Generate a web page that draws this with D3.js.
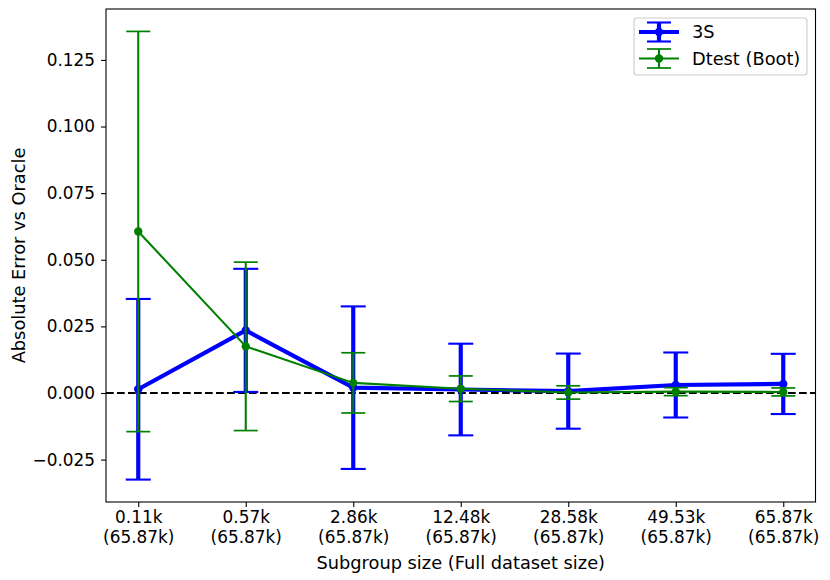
<!DOCTYPE html>
<html>
<head>
<meta charset="utf-8">
<script src="https://cdn.jsdelivr.net/npm/d3@7"></script>
<style>
    body { margin: 0; background: #fff; }
    text { font-family: "DejaVu Sans", sans-serif; font-size: 17.8px; fill: black; }
    .tick text { font-size: 16.9px; }
</style>
</head>
<body>
<svg id="chart"></svg>
<script>
const subgroup_sizes = ['0.11k', '0.57k', '2.86k', '12.48k', '28.58k', '49.53k', '65.87k'];
const full_sizes = ['65.87k', '65.87k', '65.87k', '65.87k', '65.87k', '65.87k', '65.87k'];

const s3_mean = [0.0014, 0.0235, 0.0020, 0.0013, 0.0007, 0.0030, 0.0034];
const s3_err = [0.0339, 0.0231, 0.0305, 0.0172, 0.0141, 0.0122, 0.0113];

const dtest_mean = [0.0606, 0.0175, 0.0038, 0.0016, 0.0002, 0.0005, 0.0004];
const dtest_err = [0.0751, 0.0316, 0.0113, 0.0048, 0.0025, 0.0015, 0.0015];

const y_ticks = [-0.025, 0, 0.025, 0.05, 0.075, 0.1, 0.125];

class ErrorbarChart {
    constructor (config, series) {
        this.config = {
            parent: config.parent,
            width: config.width || 830,
            height: config.height || 580,
            margin: config.margin || {top:9, right:14.5, bottom:78, left:106},
            xlabel: config.xlabel || '',
            ylabel: config.ylabel || ''
        };
        this.series = series;
        this.init();
    }

    init() {
        let self = this;

        self.svg = d3.select(self.config.parent)
            .attr('width', self.config.width)
            .attr('height', self.config.height);

        self.chart = self.svg.append('g')
            .attr('transform', `translate(${self.config.margin.left}, ${self.config.margin.top})`);

        self.inner_width = self.config.width - self.config.margin.left - self.config.margin.right;
        self.inner_height = self.config.height - self.config.margin.top - self.config.margin.bottom;

        // categorical positions 0..n-1 with matplotlib's 5% padding
        const n = subgroup_sizes.length;
        const xpad = (n - 1) * 0.05;
        self.xscale = d3.scaleLinear()
            .domain([-xpad, n - 1 + xpad])
            .range([0, self.inner_width]);

        let lo = d3.min(self.series, s => d3.min(s.mean, (m, i) => m - s.err[i]));
        let hi = d3.max(self.series, s => d3.max(s.mean, (m, i) => m + s.err[i]));
        const ypad = (hi - lo) * 0.05;
        self.yscale = d3.scaleLinear()
            .domain([lo - ypad, hi + ypad])
            .range([self.inner_height, 0]);

        self.xaxis = d3.axisBottom(self.xscale)
            .tickValues(d3.range(n))
            .tickSize(5)
            .tickPadding(4)
            .tickSizeOuter(0)
            .tickFormat(i => subgroup_sizes[i]);

        self.yaxis = d3.axisLeft(self.yscale)
            .tickValues(y_ticks)
            .tickSize(5)
            .tickPadding(6)
            .tickSizeOuter(0)
            .tickFormat(d3.format('.3f'));

        self.xaxis_group = self.chart.append('g')
            .attr('transform', `translate(0, ${self.inner_height})`);
        self.yaxis_group = self.chart.append('g');

        self.svg.append('text')
            .attr('x', self.config.margin.left + self.inner_width / 2)
            .attr('y', 569)
            .attr('text-anchor', 'middle')
            .text(self.config.xlabel);

        self.svg.append('text')
            .attr('transform', `rotate(-90)`)
            .attr('x', -(self.config.margin.top + self.inner_height / 2))
            .attr('y', 25)
            .attr('text-anchor', 'middle')
            .text(self.config.ylabel);
    }

    render() {
        let self = this;

        // zero reference line
        self.chart.append('line')
            .attr('x1', 0)
            .attr('x2', self.inner_width)
            .attr('y1', self.yscale(0))
            .attr('y2', self.yscale(0))
            .attr('stroke', 'black')
            .attr('stroke-width', 2.08)
            .attr('stroke-dasharray', '7.7,3.3');

        const line = d3.line()
            .x((d, i) => self.xscale(i))
            .y(d => self.yscale(d));

        self.series.forEach(s => {
            const g = self.chart.append('g');
            const cap = s.cap / 2;

            s.mean.forEach((m, i) => {
                const x = self.xscale(i);
                const y0 = self.yscale(m - s.err[i]);
                const y1 = self.yscale(m + s.err[i]);
                g.append('line')
                    .attr('x1', x).attr('x2', x)
                    .attr('y1', y0).attr('y2', y1)
                    .attr('stroke', s.color)
                    .attr('stroke-width', s.elw);
                [y0, y1].forEach(yc => {
                    g.append('line')
                        .attr('x1', x - cap).attr('x2', x + cap)
                        .attr('y1', yc).attr('y2', yc)
                        .attr('stroke', s.color)
                        .attr('stroke-width', s.capw);
                });
            });

            g.append('path')
                .attr('d', line(s.mean))
                .attr('fill', 'none')
                .attr('stroke', s.color)
                .attr('stroke-width', s.lw)
                .attr('stroke-linejoin', 'round');

            g.selectAll('circle')
                .data(s.mean)
                .enter()
                .append('circle')
                .attr('cx', (d, i) => self.xscale(i))
                .attr('cy', d => self.yscale(d))
                .attr('r', 4.2)
                .attr('fill', s.color);
        });

        // frame
        self.chart.append('rect')
            .attr('width', self.inner_width)
            .attr('height', self.inner_height)
            .attr('fill', 'none')
            .attr('stroke', 'black')
            .attr('stroke-width', 1.1);

        self.xaxis_group.call(self.xaxis);
        self.yaxis_group.call(self.yaxis);

        self.xaxis_group.selectAll('.domain').remove();
        self.yaxis_group.selectAll('.domain').remove();
        self.chart.selectAll('.tick line').attr('stroke-width', 1.1);

        // second line of x tick labels
        self.xaxis_group.selectAll('.tick text')
            .each(function (i) {
                const t = d3.select(this);
                t.text(null);
                t.append('tspan').attr('x', 0).attr('dy', '0.71em').text(subgroup_sizes[i]);
                t.append('tspan').attr('x', 0).attr('dy', '1.16em').text('(' + full_sizes[i] + ')');
            });

        self.renderLegend();
    }

    renderLegend() {
        let self = this;
        const lg = self.svg.append('g');

        lg.append('rect')
            .attr('x', 634).attr('y', 18)
            .attr('width', 173).attr('height', 57)
            .attr('rx', 3)
            .attr('fill', 'white')
            .attr('fill-opacity', 0.8)
            .attr('stroke', '#cccccc')
            .attr('stroke-width', 1.1);

        self.series.forEach((s, k) => {
            const cy = 32 + k * 26.5;
            const cx = 659;
            lg.append('line')
                .attr('x1', 639).attr('x2', 679)
                .attr('y1', cy).attr('y2', cy)
                .attr('stroke', s.color).attr('stroke-width', s.lw);
            lg.append('line')
                .attr('x1', cx).attr('x2', cx)
                .attr('y1', cy - 9.5).attr('y2', cy + 9.5)
                .attr('stroke', s.color).attr('stroke-width', s.elw);
            [cy - 9.5, cy + 9.5].forEach(yc => {
                lg.append('line')
                    .attr('x1', cx - 12).attr('x2', cx + 12)
                    .attr('y1', yc).attr('y2', yc)
                    .attr('stroke', s.color).attr('stroke-width', s.capw);
            });
            lg.append('circle')
                .attr('cx', cx).attr('cy', cy).attr('r', 4.2)
                .attr('fill', s.color);
            lg.append('text')
                .attr('x', 692).attr('y', cy + 6)
                .text(s.name);
        });
    }
}

const chart = new ErrorbarChart({
    parent: '#chart',
    width: 830,
    height: 580,
    xlabel: 'Subgroup size (Full dataset size)',
    ylabel: 'Absolute Error vs Oracle'
}, [
    {name: '3S', mean: s3_mean, err: s3_err, color: 'blue', lw: 4.17, elw: 4.17, capw: 2.1, cap: 25},
    {name: 'Dtest (Boot)', mean: dtest_mean, err: dtest_err, color: 'green', lw: 2.08, elw: 2.08, capw: 1.7, cap: 24}
]);
chart.render();
</script>
</body>
</html>
